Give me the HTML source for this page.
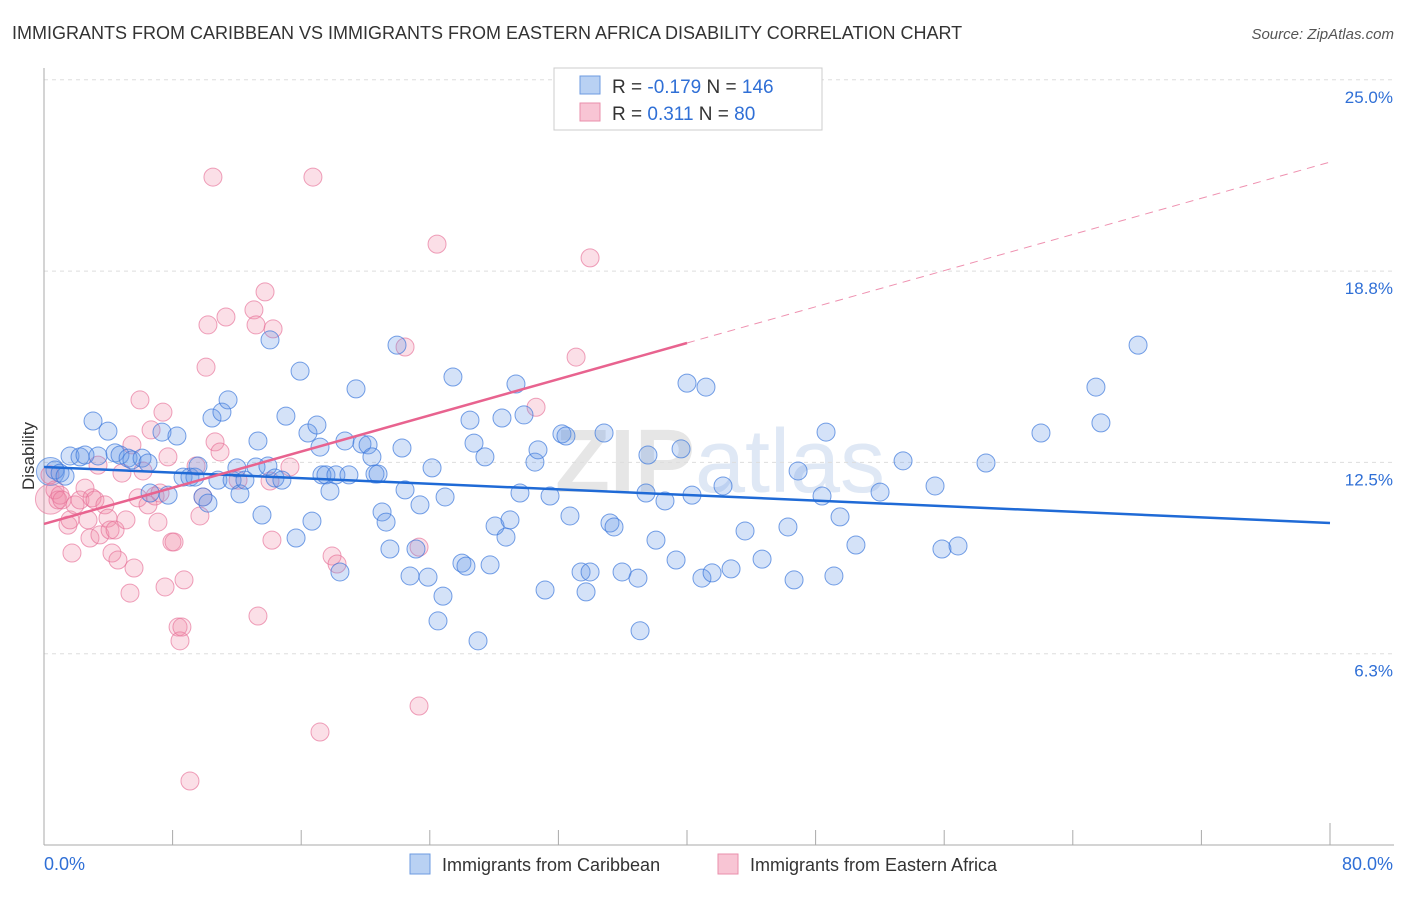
<!DOCTYPE html>
<html><head><meta charset="utf-8"><style>
body{margin:0;background:#fff;font-family:"Liberation Sans",sans-serif;}
svg text{font-family:"Liberation Sans",sans-serif;}
</style></head><body>
<svg id="chart" width="1406" height="892" xmlns="http://www.w3.org/2000/svg">
<text x="12" y="39" font-size="18" fill="#333">IMMIGRANTS FROM CARIBBEAN VS IMMIGRANTS FROM EASTERN AFRICA DISABILITY CORRELATION CHART</text>
<text x="1394" y="39" font-size="15" fill="#555" text-anchor="end" font-style="italic">Source: ZipAtlas.com</text>
<text x="720" y="492" font-size="90" fill="#e6e6e6" text-anchor="middle" font-weight="bold" font-family="Liberation Serif">ZIP<tspan fill="#dfe8f5" font-weight="normal" font-family="Liberation Sans">atlas</tspan></text>
<g id="grid"></g><g id="axes"></g><g id="pts"></g><g id="trend"></g>
<text transform="translate(34,456) rotate(-90)" font-size="17" fill="#333" text-anchor="middle">Disability</text>
<g>
<rect x="554" y="68" width="268" height="62" fill="#fff" stroke="#ccc"/>
<rect x="580" y="76" width="20" height="18" fill="#b9d1f3" stroke="#6d9be0"/>
<rect x="580" y="103" width="20" height="18" fill="#f8c5d4" stroke="#ea8fab"/>
<text x="612" y="93" font-size="19" fill="#333">R = <tspan fill="#2f6fd6">-0.179</tspan>   N = <tspan fill="#2f6fd6">146</tspan></text>
<text x="612" y="120" font-size="19" fill="#333">R =   <tspan fill="#2f6fd6">0.311</tspan>   N =  <tspan fill="#2f6fd6">80</tspan></text>
</g>
<g>
<rect x="410" y="854" width="20" height="20" fill="#b9d1f3" stroke="#6d9be0"/>
<text x="442" y="871" font-size="18" fill="#333">Immigrants from Caribbean</text>
<rect x="718" y="854" width="20" height="20" fill="#f8c5d4" stroke="#ea8fab"/>
<text x="750" y="871" font-size="18" fill="#333">Immigrants from Eastern Africa</text>
</g>
</svg>
<script>
const yTicks=[25.0,18.75,12.5,6.25];
const yTickLabels=["25.0%","18.8%","12.5%","6.3%"];
const xEndLabels=["0.0%","80.0%"];
const blueX=[0.68,1.0,1.31,1.62,2.24,2.55,3.05,3.36,3.98,4.42,4.73,5.23,5.47,6.1,6.47,6.6,7.34,7.72,8.27,8.65,9.08,9.39,9.58,9.89,10.2,10.45,11.07,11.45,10.82,11.7,12.0,12.19,12.5,13.19,13.31,13.56,13.93,14.06,14.37,14.8,15.05,15.68,15.93,16.42,16.67,16.98,17.17,17.29,17.54,17.79,18.16,18.41,18.72,18.97,19.41,19.78,20.16,20.4,20.59,20.78,21.03,21.28,21.52,21.96,22.27,22.46,22.77,23.14,23.39,23.89,24.14,24.51,24.82,24.95,25.44,26.0,26.25,26.5,26.75,27.0,27.43,27.75,28.06,28.49,28.74,28.99,29.36,29.61,29.86,30.54,30.73,31.17,31.48,32.22,32.47,32.72,33.41,33.72,33.97,34.84,35.21,35.46,35.96,36.95,37.08,37.45,37.57,38.07,38.63,39.32,39.63,40.0,40.31,40.93,41.18,41.56,42.24,42.74,43.61,44.67,46.28,46.66,46.91,48.4,48.65,49.14,49.52,50.51,52.01,53.44,55.43,55.86,56.86,58.6,62.02,65.44,65.75,68.06];
const blueY=[12.25,12.15,12.05,12.71,12.68,12.74,13.85,12.71,13.52,12.81,12.74,12.64,12.58,12.64,12.48,11.5,13.49,11.43,13.36,12.02,12.02,12.02,12.38,11.37,11.17,13.95,14.14,14.54,11.92,11.92,12.32,11.47,11.92,12.35,13.2,10.78,12.38,16.5,11.99,11.92,14.01,10.03,15.48,13.46,10.58,13.72,13.0,12.09,12.09,11.56,12.09,8.92,13.2,12.09,14.9,13.1,13.07,12.68,12.12,12.12,10.88,10.55,9.67,16.33,12.97,11.6,8.79,9.67,11.11,8.75,12.32,7.32,8.13,11.37,15.29,9.21,9.11,13.88,13.13,6.67,12.68,9.15,10.42,13.95,10.06,10.62,15.06,11.5,14.05,12.51,12.91,8.33,11.4,13.43,13.36,10.75,8.92,8.27,8.92,13.46,10.52,10.39,8.92,8.72,7.0,11.5,12.74,9.96,11.24,9.31,12.94,15.09,11.43,8.72,14.96,8.89,11.73,9.02,10.26,9.34,10.39,8.66,12.22,11.4,13.49,8.79,10.72,9.8,11.53,12.55,11.73,9.67,9.77,12.48,13.46,14.96,13.79,16.33];
const pinkX=[0.37,0.68,0.87,1.0,1.12,1.49,1.62,1.74,1.93,2.24,2.55,2.74,2.86,2.99,3.17,3.36,3.48,3.79,3.98,4.11,4.23,4.42,4.6,4.85,5.1,5.35,5.47,5.6,5.85,5.97,6.16,6.47,6.66,6.91,7.09,7.22,7.4,7.53,7.71,7.96,8.09,8.34,8.46,8.58,8.71,9.08,9.46,9.7,9.89,10.2,10.08,10.51,10.64,10.95,11.32,12.07,13.06,13.19,13.31,13.75,14.06,14.18,14.25,15.3,16.73,17.17,17.92,18.23,22.46,23.33,23.33,24.45,30.61,33.1,33.97];
const pinkY=[12.09,11.6,11.27,11.43,11.27,10.45,10.62,9.54,11.11,11.27,11.66,10.62,10.03,11.34,11.27,12.41,10.13,11.11,10.68,10.29,9.54,10.29,9.31,12.15,10.62,8.23,13.07,9.05,11.34,14.54,12.22,11.11,13.56,11.4,10.55,11.5,14.14,8.43,12.68,9.9,9.9,7.12,6.67,7.12,8.66,2.09,12.38,10.75,11.37,16.99,15.61,21.82,13.17,12.84,17.25,11.92,17.48,16.99,7.48,18.07,11.89,9.96,16.86,12.35,21.82,3.69,9.44,9.18,16.27,9.73,4.54,19.63,14.3,15.94,19.18];
const blueTrend=[12.35,10.52];
const pinkTrend=[10.49,22.31];
const pinkSolidEnd=40;
const X0=44,X1=1330,Y0=845,PX=30.61;
const xs=v=>X0+v*(X1-X0)/80;
const ys=v=>Y0-v*PX;
const NS="http://www.w3.org/2000/svg";
function mk(tag,attrs,parent){const e=document.createElementNS(NS,tag);for(const k in attrs)e.setAttribute(k,attrs[k]);parent.appendChild(e);return e;}
const grid=document.getElementById('grid'),axes=document.getElementById('axes'),pts=document.getElementById('pts'),trend=document.getElementById('trend');
yTicks.forEach((t,i)=>{
 const l=mk('line',{x1:X0,x2:1394,y1:ys(t),y2:ys(t),stroke:'#ddd','stroke-dasharray':'4,4'},grid);
 
 
 const tx=mk('text',{x:1393,y:ys(t)+23,'font-size':17,fill:'#2f6fd6','text-anchor':'end'},grid);
 tx.textContent=yTickLabels[i];
 
 
});
let a=mk('line',{x1:X0,x2:X0,y1:68,y2:Y0,stroke:'#aaa'},axes);


a=mk('line',{x1:X0,x2:1394,y1:Y0,y2:Y0,stroke:'#aaa'},axes);


for(let i=0;i<=10;i++){const x=xs(i*8);const t=mk('line',{x1:x,x2:x,y1:i==10?823:830,y2:Y0,stroke:'#aaa'},axes);
 
 }
let lx=mk('text',{x:44,y:870,'font-size':18,fill:'#2f6fd6'},axes);lx.textContent=xEndLabels[0];


lx=mk('text',{x:1393,y:870,'font-size':18,fill:'#2f6fd6','text-anchor':'end'},axes);lx.textContent=xEndLabels[1];


function dots(X,Y,fill,stroke,name){X.forEach((v,i)=>{const c=mk('circle',{cx:xs(v),cy:ys(Y[i]),r:9,fill:fill,stroke:stroke,'stroke-width':1},pts);
 
 });}
const big1=mk('circle',{cx:xs(0.4),cy:ys(11.3),r:15,fill:'rgba(240,140,170,0.3)',stroke:'rgba(230,110,150,0.6)'},pts);


const big2=mk('circle',{cx:xs(0.4),cy:ys(12.2),r:14,fill:'rgba(100,150,230,0.3)',stroke:'rgba(60,120,220,0.6)'},pts);


dots(pinkX,pinkY,'rgba(240,140,170,0.28)','rgba(230,110,150,0.65)','pink-point');
dots(blueX,blueY,'rgba(100,150,230,0.28)','rgba(60,120,220,0.7)','blue-point');
let tl=mk('line',{x1:xs(0),y1:ys(blueTrend[0]),x2:xs(80),y2:ys(blueTrend[1]),stroke:'#1f6ad6','stroke-width':2.5},trend);


const pAt=v=>pinkTrend[0]+(pinkTrend[1]-pinkTrend[0])*v/80;
tl=mk('line',{x1:xs(0),y1:ys(pinkTrend[0]),x2:xs(pinkSolidEnd),y2:ys(pAt(pinkSolidEnd)),stroke:'#e8638f','stroke-width':2.5},trend);


tl=mk('line',{x1:xs(pinkSolidEnd),y1:ys(pAt(pinkSolidEnd)),x2:xs(80),y2:ys(pinkTrend[1]),stroke:'#e8638f','stroke-width':1,'stroke-dasharray':'8,6',opacity:0.7},trend);


</script>
</body></html>
